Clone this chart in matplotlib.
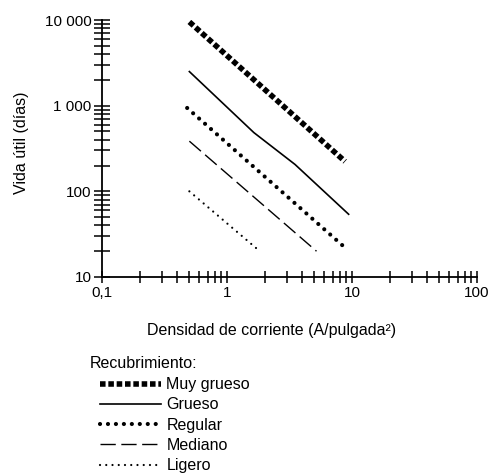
import matplotlib
matplotlib.use("Agg")
import matplotlib.pyplot as plt
from matplotlib.ticker import FixedLocator, NullFormatter, LogLocator

plt.rcParams['font.family'] = ['Liberation Sans', 'DejaVu Sans']

# Data
muy_grueso_x = [0.5, 8.8]
muy_grueso_y = [9500, 223]
grueso_x = [0.5, 1.64, 3.5, 9.4]
grueso_y = [2500, 485, 206, 54]
regular_x = [0.48, 8.8]
regular_y = [940, 22]
mediano_x = [0.5, 5.2]
mediano_y = [385, 20]
ligero_x = [0.5, 1.83]
ligero_y = [100, 20]

labels = ["Muy grueso", "Grueso", "Regular", "Mediano", "Ligero"]
x_ticks = [0.1, 1, 10, 100]
x_ticklabels = ["0,1", "1", "10", "100"]
y_ticks = [10, 100, 1000, 10000]
y_ticklabels = ["10", "100", "1 000", "10 000"]

W, H = 489, 476
X0, X1, Y0, Y1 = 102, 477, 277, 20
fig = plt.figure(figsize=(W / 100, H / 100), dpi=100)
ax = fig.add_axes([X0 / W, 1 - Y0 / H, (X1 - X0) / W, (Y0 - Y1) / H])

ax.set_xscale('log')
ax.set_yscale('log')
ax.set_xlim(0.1, 100)
ax.set_ylim(10, 10000)

l1, = ax.plot(muy_grueso_x, muy_grueso_y, color='black', lw=4.0,
              dashes=(1.0, 0.5), dash_capstyle='butt')
l2, = ax.plot(grueso_x, grueso_y, color='black', lw=1.2)
l3, = ax.plot(regular_x, regular_y, color='black', lw=3.0,
              dashes=(0.01, 1.9), dash_capstyle='round')
l4, = ax.plot(mediano_x, mediano_y, color='black', lw=1.0,
              dashes=(11, 4))
l5, = ax.plot(ligero_x, ligero_y, color='black', lw=1.6,
              dashes=(0.01, 2.8), dash_capstyle='round')

for s in ['top', 'right']:
    ax.spines[s].set_visible(False)
for s in ['left', 'bottom']:
    ax.spines[s].set_linewidth(1.3)

ax.xaxis.set_major_locator(FixedLocator(x_ticks))
ax.set_xticklabels(x_ticklabels)
ax.yaxis.set_major_locator(FixedLocator(y_ticks))
ax.set_yticklabels(y_ticklabels)
ax.xaxis.set_minor_locator(LogLocator(base=10, subs=range(2, 10)))
ax.yaxis.set_minor_locator(LogLocator(base=10, subs=range(2, 10)))
ax.xaxis.set_minor_formatter(NullFormatter())
ax.yaxis.set_minor_formatter(NullFormatter())

ax.tick_params(axis='both', which='both', direction='inout', width=1.1,
               color='black', labelsize=11)
ax.tick_params(axis='x', which='both', length=9, pad=2)
ax.tick_params(axis='y', which='both', length=11, pad=2)

ax.set_ylabel("Vida útil (días)", fontsize=11.5)
ax.yaxis.set_label_coords(-(X0 - 22) / (X1 - X0), (Y0 - 143) / (Y0 - Y1))
ax.yaxis.label.set_va('center')

ax.set_xlabel("Densidad de corriente (A/pulgada²)", fontsize=11.5)
ax.xaxis.set_label_coords((272 - X0) / (X1 - X0), -(330 - Y0) / (Y0 - Y1))
ax.xaxis.label.set_va('center')

fig.text(90 / W, 1 - 364 / H, "Recubrimiento:", fontsize=11.5,
         ha='left', va='center')
leg = fig.legend([l1, l2, l3, l4, l5], labels, loc='upper left',
                 bbox_to_anchor=(97 / W, 1 - 374 / H), frameon=False,
                 fontsize=11.5, handlelength=3.8, handletextpad=0.35,
                 labelspacing=0.33, borderaxespad=0, borderpad=0.2)

fig.savefig("out.png", dpi=100)
